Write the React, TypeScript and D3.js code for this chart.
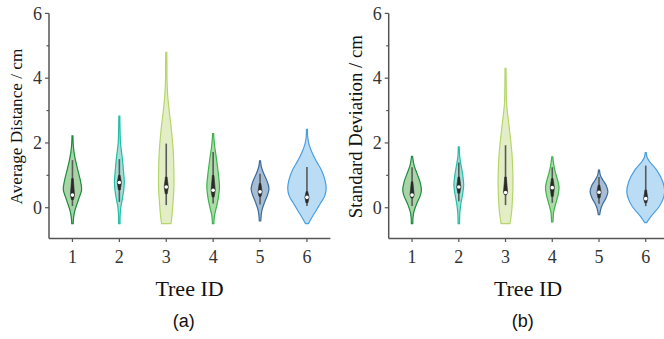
import React from 'react';
import * as d3 from 'd3';

const treeIds = ['1', '2', '3', '4', '5', '6'];
const yMajorTicks = [0, 2, 4, 6];
const yMinorTicks = [1, 3, 5];
const strokeColors = ['#1a8c3c', '#20bfa6', '#b5d56a', '#3cb44b', '#3a6b9b', '#4a9fe0'];
const fillColors = ['#a9d4a8', '#a7ddd5', '#e3eec6', '#acdba9', '#a7bdd5', '#badcf4'];

// Panel (a): average distance — violin profiles (value levels and relative density)
const avgLevels = [
  [-0.49, -0.3, -0.1, 0, 0.15, 0.3, 0.55, 0.8, 1.1, 1.4, 1.7, 2.0, 2.22],
  [-0.49, -0.3, 0, 0.2, 0.5, 0.8, 1.1, 1.5, 2.0, 2.4, 2.83],
  [-0.49, -0.2, 0.18, 0.5, 0.9, 1.3, 1.72, 2.34, 2.96, 3.48, 4.0, 4.4, 4.8],
  [-0.49, -0.23, 0.08, 0.35, 0.65, 1.0, 1.52, 1.93, 2.29],
  [-0.41, -0.08, 0.18, 0.4, 0.59, 0.8, 1.0, 1.25, 1.45],
  [-0.49, -0.3, -0.1, 0.13, 0.35, 0.59, 0.85, 1.16, 1.4, 1.68, 1.98, 2.2, 2.42],
];
const avgDensity = [
  [0.03, 0.05, 0.1, 0.14, 0.21, 0.28, 0.39, 0.35, 0.25, 0.15, 0.07, 0.03, 0.02],
  [0.03, 0.03, 0.06, 0.11, 0.18, 0.21, 0.18, 0.13, 0.05, 0.03, 0.02],
  [0.2, 0.25, 0.29, 0.32, 0.33, 0.32, 0.3, 0.23, 0.13, 0.06, 0.03, 0.03, 0.02],
  [0.03, 0.06, 0.16, 0.23, 0.27, 0.23, 0.14, 0.06, 0.02],
  [0.03, 0.08, 0.2, 0.32, 0.38, 0.31, 0.19, 0.06, 0.02],
  [0.06, 0.21, 0.38, 0.57, 0.75, 0.82, 0.77, 0.62, 0.43, 0.23, 0.08, 0.03, 0.02],
];
// [whisker low, q1, median, q3, whisker high]
const avgBoxes = [
  [0.05, 0.25, 0.39, 0.9, 1.47],
  [0.18, 0.55, 0.78, 1.0, 1.5],
  [0.08, 0.43, 0.64, 0.95, 1.98],
  [0.13, 0.33, 0.54, 1.0, 1.72],
  [0.1, 0.35, 0.49, 0.75, 1.05],
  [0.05, 0.15, 0.32, 0.5, 1.26],
];

// Panel (b): standard deviation
const stdLevels = [
  [-0.49, -0.18, 0.13, 0.35, 0.54, 0.8, 1.06, 1.3, 1.59],
  [-0.49, -0.2, 0.13, 0.4, 0.7, 1.0, 1.26, 1.57, 1.88],
  [-0.49, -0.13, 0.3, 0.8, 1.1, 1.62, 2.14, 2.65, 3.17, 3.7, 4.3],
  [-0.44, -0.13, 0.13, 0.4, 0.64, 0.9, 1.1, 1.35, 1.57],
  [-0.21, 0, 0.13, 0.3, 0.49, 0.7, 0.85, 1.0, 1.16],
  [-0.46, -0.28, 0.03, 0.25, 0.49, 0.8, 1.16, 1.42, 1.55, 1.7],
];
const stdDensity = [
  [0.03, 0.06, 0.2, 0.34, 0.4, 0.34, 0.21, 0.09, 0.02],
  [0.03, 0.04, 0.09, 0.16, 0.21, 0.17, 0.11, 0.04, 0.02],
  [0.19, 0.26, 0.3, 0.32, 0.31, 0.28, 0.21, 0.13, 0.05, 0.03, 0.02],
  [0.03, 0.06, 0.15, 0.25, 0.29, 0.21, 0.13, 0.06, 0.02],
  [0.03, 0.09, 0.17, 0.3, 0.38, 0.3, 0.17, 0.06, 0.02],
  [0.04, 0.21, 0.57, 0.73, 0.81, 0.73, 0.47, 0.17, 0.06, 0.02],
];
const stdBoxes = [
  [0.05, 0.3, 0.39, 0.8, 1.25],
  [0.2, 0.45, 0.64, 0.95, 1.4],
  [0.08, 0.4, 0.47, 0.95, 1.93],
  [0.15, 0.35, 0.62, 0.9, 1.25],
  [0.12, 0.3, 0.48, 0.7, 0.95],
  [0.05, 0.15, 0.28, 0.55, 1.3],
];

const Y_DOMAIN: [number, number] = [-0.95, 6];
const Y_TOP = 13.4;
const Y_BOT = 238.5;
const SERIF = '"Liberation Serif", "Times New Roman", serif';
const SANS = '"Liberation Sans", Arial, sans-serif';
const AXIS = '#555';

type PanelProps = {
  left: number;
  right: number;
  levels: number[][];
  density: number[][];
  boxes: number[][];
  yLabel: string;
  yLabelSize: number;
  yLabelX: number;
  titleX: number;
  tag: string;
  tagX: number;
};

function Panel(p: PanelProps) {
  const y = d3.scaleLinear().domain(Y_DOMAIN).range([Y_BOT, Y_TOP]);
  const x = d3.scaleBand<string>().domain(treeIds).range([p.left, p.right]).padding(0);
  const half = x.bandwidth() / 2;
  const w = d3.scaleLinear().domain([0, 1]).range([0, half]);
  const boxLine = d3.line<[number, number]>().curve(d3.curveLinearClosed);

  return (
    <g>
      {treeIds.map((id, i) => {
        const cx = (x(id) as number) + half;
        const pts = p.levels[i].map((v, k) => ({ v, d: p.density[i][k] }));
        const area = d3
          .area<{ v: number; d: number }>()
          .y((d) => y(d.v))
          .x0((d) => cx - w(d.d))
          .x1((d) => cx + w(d.d))
          .curve(d3.curveCatmullRom.alpha(0.5));
        const [lo, q1, med, q3, hi] = p.boxes[i];
        const box: [number, number][] = [
          [cx - 0.8, y(q3)],
          [cx + 0.8, y(q3)],
          [cx + 2.1, y(med)],
          [cx + 1.0, y(q1)],
          [cx - 1.0, y(q1)],
          [cx - 2.1, y(med)],
        ];
        return (
          <g key={id}>
            <path d={area(pts) || ''} fill={fillColors[i]} stroke={strokeColors[i]} strokeWidth={1.2} />
            <line x1={cx} x2={cx} y1={y(lo)} y2={y(hi)} stroke="#5a5a5a" strokeWidth={1.6} />
            <path d={boxLine(box) || ''} fill="#2a2a2a" stroke="#2a2a2a" strokeWidth={0.6} />
            <circle cx={cx} cy={y(med)} r={1.8} fill="#fff" />
          </g>
        );
      })}
      {/* y axis */}
      <line x1={p.left} x2={p.left} y1={Y_TOP} y2={Y_BOT} stroke={AXIS} strokeWidth={1.5} />
      {yMajorTicks.map((t) => (
        <g key={'M' + t}>
          <line x1={p.left - 4} x2={p.left} y1={y(t)} y2={y(t)} stroke={AXIS} strokeWidth={1.2} />
          <text
            x={p.left - 7}
            y={y(t)}
            dy="0.34em"
            textAnchor="end"
            fontFamily={SERIF}
            fontSize={18}
            fill="#333"
          >
            {t}
          </text>
        </g>
      ))}
      {yMinorTicks.map((t) => (
        <line key={'m' + t} x1={p.left - 2.5} x2={p.left} y1={y(t)} y2={y(t)} stroke={AXIS} strokeWidth={1.2} />
      ))}
      {/* x axis */}
      <line x1={p.left} x2={p.right} y1={Y_BOT} y2={Y_BOT} stroke={AXIS} strokeWidth={1.5} />
      {treeIds.map((id) => {
        const cx = (x(id) as number) + half;
        return (
          <g key={'x' + id}>
            <line x1={cx} x2={cx} y1={Y_BOT} y2={Y_BOT + 3.5} stroke={AXIS} strokeWidth={1.2} />
            <text x={cx} y={263} textAnchor="middle" fontFamily={SERIF} fontSize={18} fill="#333">
              {id}
            </text>
          </g>
        );
      })}
      <text
        transform={`translate(${p.yLabelX},126.6) rotate(-90)`}
        textAnchor="middle"
        fontFamily={SERIF}
        fontSize={p.yLabelSize}
        fill="#111"
      >
        {p.yLabel}
      </text>
      <text x={p.titleX} y={296} textAnchor="middle" fontFamily={SERIF} fontSize={22} fill="#111">
        Tree ID
      </text>
      <text x={p.tagX} y={327} textAnchor="middle" fontFamily={SANS} fontSize={18} fill="#111">
        {p.tag}
      </text>
    </g>
  );
}

export default function App() {
  return (
    <svg
      width={664}
      height={339}
      viewBox="0 0 664 339"
      style={{ position: 'absolute', left: 0, top: 0, background: '#fff' }}
    >
      <rect width={664} height={339} fill="#fff" />
      <Panel
        left={49}
        right={330.4}
        levels={avgLevels}
        density={avgDensity}
        boxes={avgBoxes}
        yLabel="Average Distance / cm"
        yLabelSize={17.2}
        yLabelX={21.5}
        titleX={189.5}
        tag="(a)"
        tagX={183.7}
      />
      <Panel
        left={388.7}
        right={669.1}
        levels={stdLevels}
        density={stdDensity}
        boxes={stdBoxes}
        yLabel="Standard Deviation / cm"
        yLabelSize={18.8}
        yLabelX={362.3}
        titleX={528}
        tag="(b)"
        tagX={522.8}
      />
    </svg>
  );
}
